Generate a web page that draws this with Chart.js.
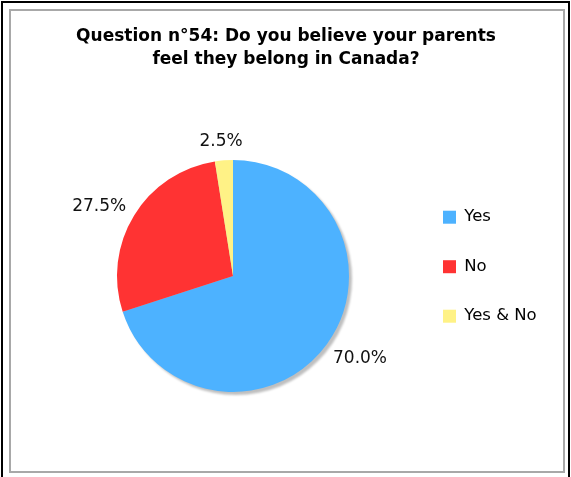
<!DOCTYPE html>
<html>
<head>
<meta charset="utf-8">
<script src="https://cdn.jsdelivr.net/npm/chart.js@4/dist/chart.umd.min.js"></script>
<style>
  html, body { margin: 0; padding: 0; background: #fff; }
  #wrap { position: relative; width: 571px; height: 477px; }
</style>
</head>
<body>
<div id="wrap"><canvas id="chart" width="571" height="477"></canvas></div>
<script>
// Survey answers
const categories = ['Yes', 'No', 'Yes & No'];
const percentages = [70.0, 27.5, 2.5];
const sliceColors = ['#4db2ff', '#ff3333', '#fff286'];
const titleLines = ['Question n°54: Do you believe your parents', 'feel they belong in Canada?'];

const FONT = '"DejaVu Sans", Verdana, sans-serif';

// Page frame: black rules on the outer edges and a grey inset box
const framePlugin = {
  id: 'frame',
  beforeDraw(chart) {
    const ctx = chart.ctx;
    const w = chart.width, h = chart.height;
    ctx.save();
    ctx.fillStyle = '#ffffff';
    ctx.fillRect(0, 0, w, h);
    ctx.fillStyle = '#000000';
    ctx.fillRect(1, 1, w - 2, 2);
    ctx.fillRect(1, 1, 2, h - 1);
    ctx.fillRect(w - 3, 1, 2, h - 1);
    ctx.strokeStyle = '#a8a8a8';
    ctx.lineWidth = 2;
    ctx.strokeRect(10, 10, w - 17, h - 15);
    ctx.restore();
  }
};

// The legend column is kept narrow so the title stays centred on the page;
// let its labels run on past that width instead of being clipped.
const legendOverflow = {
  id: 'legendOverflow',
  afterLayout(chart) {
    const lg = chart.legend;
    if (!lg) return;
    const extra = 80;
    lg.width += extra;
    lg.right += extra;
  }
};

// Soft drop shadow under the whole pie
const shadowPlugin = {
  id: 'pieShadow',
  beforeDatasetsDraw(chart) {
    const arc = chart.getDatasetMeta(0).data[0];
    if (!arc) return;
    const ctx = chart.ctx;
    ctx.save();
    ctx.filter = 'blur(1.2px)';
    ctx.fillStyle = 'rgba(0,0,0,0.25)';
    ctx.beginPath();
    ctx.arc(arc.x + 3, arc.y + 3, arc.outerRadius, 0, Math.PI * 2);
    ctx.fill();
    ctx.restore();
  }
};

// Percentage labels placed just outside each slice
const outsideLabels = {
  id: 'outsideLabels',
  afterDatasetsDraw(chart) {
    const ctx = chart.ctx;
    const meta = chart.getDatasetMeta(0);
    const values = chart.data.datasets[0].data;
    const size = 17;
    ctx.save();
    ctx.font = size + 'px ' + FONT;
    ctx.fillStyle = '#111111';
    ctx.textAlign = 'center';
    ctx.textBaseline = 'alphabetic';
    meta.data.forEach((arc, i) => {
      const mid = (arc.startAngle + arc.endAngle) / 2;
      const c = Math.cos(mid), s = Math.sin(mid);
      const r = arc.outerRadius + 14;
      const text = values[i].toFixed(1) + '%';
      const tw = ctx.measureText(text).width;
      const th = 14;
      const cx = arc.x + c * r + c * tw / 2;
      const cy = arc.y + s * r + s * th / 2;
      ctx.fillText(text, cx, cy + size * 0.365);
    });
    ctx.restore();
  }
};

new Chart(document.getElementById('chart'), {
  type: 'pie',
  data: {
    labels: categories,
    datasets: [{
      data: percentages,
      backgroundColor: sliceColors,
      borderWidth: 0,
      hoverOffset: 0,
      offset: 0
    }]
  },
  options: {
    responsive: false,
    animation: false,
    events: [],
    layout: { padding: { left: 56, right: 55, top: 0, bottom: 85 } },
    plugins: {
      title: {
        display: true,
        text: titleLines,
        color: '#000000',
        font: { family: FONT, size: 17, weight: 'bold', lineHeight: 1.353 },
        padding: { top: 25.5, bottom: 88.5 }
      },
      legend: {
        display: true,
        position: 'right',
        align: 'start',
        fullSize: false,
        maxWidth: 106,
        title: { display: true, text: '', padding: 0, font: { size: 13.3, lineHeight: 1.2 } },
        labels: {
          boxWidth: 13,
          boxHeight: 13,
          padding: 33,
          color: '#000000',
          font: { family: FONT, size: 16.5 }
        }
      },
      tooltip: { enabled: false }
    }
  },
  plugins: [framePlugin, legendOverflow, shadowPlugin, outsideLabels]
});
</script>
</body>
</html>
